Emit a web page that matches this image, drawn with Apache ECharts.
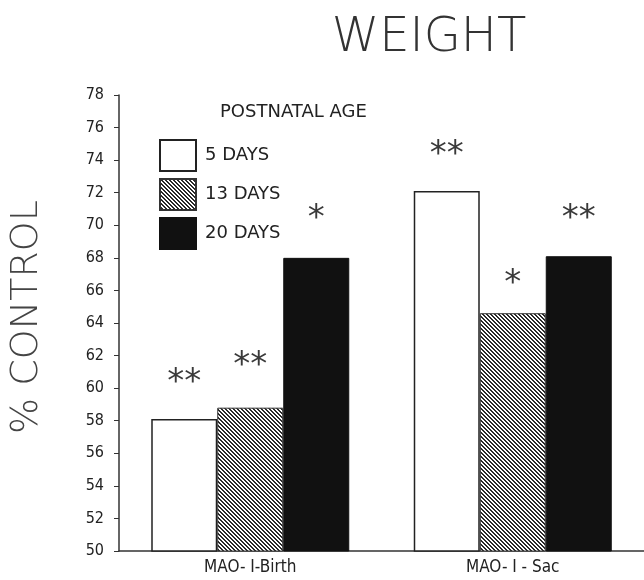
<!DOCTYPE html>
<html>
<head>
<meta charset="utf-8">
<script src="https://cdn.jsdelivr.net/npm/echarts@6/dist/echarts.min.js"></script>
<style>
  html, body { margin: 0; padding: 0; background: #fff; }
  #chart { width: 644px; height: 580px; }
</style>
</head>
<body>
<div id="chart"></div>
<script>
// Treatment groups on the x axis
const categories = ['MAO- I-Birth', 'MAO- I - Sac'];
// Postnatal ages (legend)
const ageGroups = ['5 DAYS', '13 DAYS', '20 DAYS'];
// Body weight as % of control
const days5 = [58.1, 72.1];
const days13 = [58.8, 64.6];
const days20 = [68.0, 68.1];
// Significance marks above each bar
const sig5 = ['**', '**'];
const sig13 = ['**', '*'];
const sig20 = ['*', '**'];
// Y axis range and tick step
const yMin = 50, yMax = 78, yStep = 2;

// Gap between bar top and its significance mark (px)
const lift5 = [19, 19];
const lift13 = [25, 12];
const lift20 = [22, 20];

// Diagonal hatching used for the 13-day bars
function hatchPattern() {
  const c = document.createElement('canvas');
  c.width = 4; c.height = 4;
  const g = c.getContext('2d');
  g.fillStyle = '#ffffff';
  g.fillRect(0, 0, 4, 4);
  g.fillStyle = '#2a2a2a';
  for (let y = 0; y < 4; y++) {
    for (let x = 0; x < 4; x++) {
      if ((((x - y) % 4) + 4) % 4 < 2) g.fillRect(x, y, 1, 1);
    }
  }
  return c;
}

const markLabel = {
  show: true,
  position: 'top',
  fontFamily: 'DejaVu Sans',
  fontSize: 34,
  color: '#3a3a3a'
};

function buildData(values, lifts) {
  return values.map((v, i) => ({ value: v, label: { distance: lifts[i] } }));
}

function buildSeries(name, values, marks, lifts, itemStyle) {
  return {
    name: name,
    type: 'bar',
    barWidth: 66,
    barGap: '0%',
    data: buildData(values, lifts),
    itemStyle: itemStyle,
    label: Object.assign({}, markLabel, {
      formatter: p => marks[p.dataIndex]
    }),
    emphasis: { disabled: true }
  };
}

const chart = echarts.init(document.getElementById('chart'), null, { renderer: 'canvas' });

chart.setOption({
  animation: false,
  backgroundColor: '#ffffff',
  grid: { left: 119, right: -4, top: 95, bottom: 29, containLabel: false },
  legend: {
    orient: 'vertical',
    left: 159,
    top: 139,
    padding: 0,
    itemWidth: 36,
    itemHeight: 31,
    itemGap: 6,
    icon: 'rect',
    selectedMode: false,
    data: ageGroups,
    textStyle: {
      fontFamily: 'DejaVu Sans',
      fontSize: 18,
      color: '#222',
      padding: [0, 0, 0, 4]
    }
  },
  graphic: [
    {
      type: 'text',
      x: 429, y: 39,
      style: {
        text: 'WEIGHT',
        fontFamily: 'DejaVu Sans',
        fontWeight: 200,
        fontSize: 48,
        fill: '#333',
        align: 'center',
        verticalAlign: 'middle'
      }
    },
    {
      type: 'text',
      x: 27, y: 317,
      rotation: Math.PI / 2,
      style: {
        text: '% CONTROL',
        fontFamily: 'DejaVu Sans',
        fontWeight: 200,
        fontSize: 38,
        fill: '#444',
        align: 'center',
        verticalAlign: 'middle'
      }
    },
    {
      type: 'text',
      x: 220, y: 112,
      style: {
        text: 'POSTNATAL AGE',
        fontFamily: 'DejaVu Sans',
        fontSize: 18,
        fill: '#222',
        align: 'left',
        verticalAlign: 'middle'
      }
    }
  ],
  xAxis: {
    type: 'category',
    data: categories,
    axisLine: { lineStyle: { color: '#333', width: 1.5 } },
    axisTick: { alignWithLabel: true, length: 5, lineStyle: { color: '#333' } },
    axisLabel: {
      margin: 8,
      fontFamily: 'DejaVu Sans Condensed',
      fontSize: 17,
      color: '#222'
    }
  },
  yAxis: {
    type: 'value',
    min: yMin,
    max: yMax,
    interval: yStep,
    splitLine: { show: false },
    axisLine: { show: true, lineStyle: { color: '#333', width: 1.5 } },
    axisTick: { show: true, length: 5, lineStyle: { color: '#333' } },
    axisLabel: {
      margin: 15,
      fontFamily: 'DejaVu Sans Condensed',
      fontSize: 16,
      color: '#222'
    }
  },
  series: [
    buildSeries(ageGroups[0], days5, sig5, lift5,
      { color: '#ffffff', borderColor: '#222', borderWidth: 1.5 }),
    buildSeries(ageGroups[1], days13, sig13, lift13,
      { color: { image: hatchPattern(), repeat: 'repeat' }, borderColor: '#333', borderWidth: 1 }),
    buildSeries(ageGroups[2], days20, sig20, lift20,
      { color: '#111111', borderColor: '#111', borderWidth: 1 })
  ]
});
</script>
</body>
</html>
